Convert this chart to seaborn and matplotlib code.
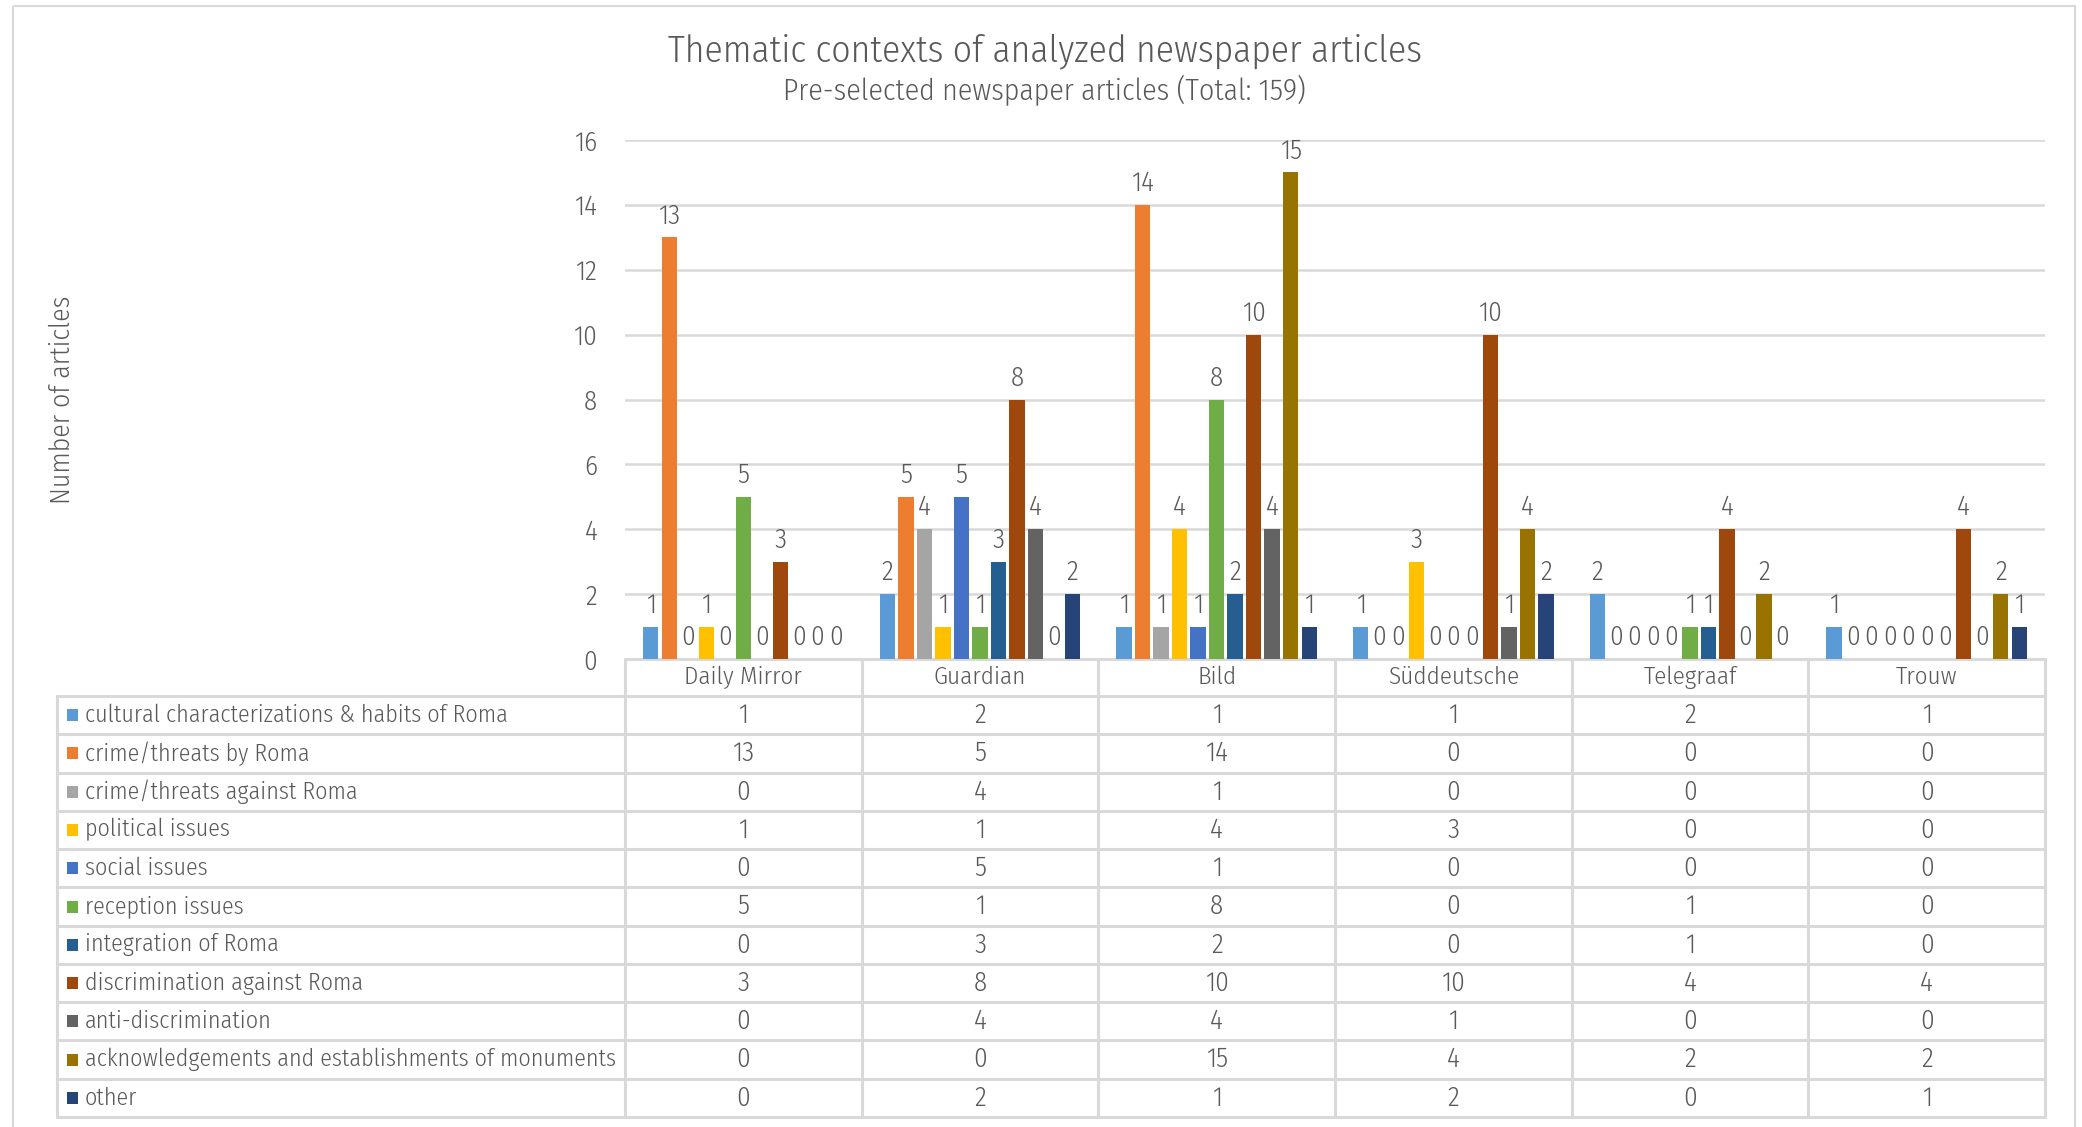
"""
Thematic contexts of analyzed newspaper articles - grouped bars with a data table
"""

import numpy as np
import pandas as pd
import matplotlib
matplotlib.use('Agg')
import matplotlib.pyplot as plt
from matplotlib.patches import Rectangle
import seaborn as sns


newspapers = ['Daily Mirror', 'Guardian', 'Bild', 'Süddeutsche', 'Telegraaf', 'Trouw']

topics = [
    'cultural characterizations & habits of Roma',
    'crime/threats by Roma',
    'crime/threats against Roma',
    'political issues',
    'social issues',
    'reception issues',
    'integration of Roma',
    'discrimination against Roma',
    'anti-discrimination',
    'acknowledgements and establishments of monuments',
    'other',
]

# one list per topic, values in newspaper order
cultural = [1, 2, 1, 1, 2, 1]
crime_by = [13, 5, 14, 0, 0, 0]
crime_against = [0, 4, 1, 0, 0, 0]
political = [1, 1, 4, 3, 0, 0]
social = [0, 5, 1, 0, 0, 0]
reception = [5, 1, 8, 0, 1, 0]
integration = [0, 3, 2, 0, 1, 0]
discrimination = [3, 8, 10, 10, 4, 4]
anti_discrimination = [0, 4, 4, 1, 0, 0]
monuments = [0, 0, 15, 4, 2, 2]
other = [0, 2, 1, 2, 0, 1]

topic_colors = ['#5B9BD5', '#ED7D31', '#A5A5A5', '#FFC000', '#4472C4', '#70AD47',
                '#255E91', '#9E480E', '#636363', '#997300', '#264478']

y_ticks = [0, 2, 4, 6, 8, 10, 12, 14, 16]

TITLE = 'Thematic contexts of analyzed newspaper articles'
SUBTITLE = 'Pre-selected newspaper articles (Total: 159)'
Y_LABEL = 'Number of articles'

TEXT = '#595959'
GRID = '#D9D9D9'
FONTS = ['Fira Sans Condensed', 'IBM Plex Sans Condensed', 'Encode Sans Condensed',
         'Archivo Narrow', 'DejaVu Sans']
FS_LABEL = 17.3   # 表格左列文字
FS_NUM = 19.5     # 数字
FS_CAT = 18

W, H = 2082, 1127


def build_frame():
    series = [cultural, crime_by, crime_against, political, social, reception,
              integration, discrimination, anti_discrimination, monuments, other]
    rows = []
    for topic, vals in zip(topics, series):
        for paper, v in zip(newspapers, vals):
            rows.append({'paper': paper, 'topic': topic, 'count': v})
    return pd.DataFrame(rows), series


def main():
    df, series = build_frame()

    sns.set_theme(style='white')
    plt.rcParams['font.family'] = FONTS
    plt.rcParams['font.weight'] = 300
    plt.rcParams['text.color'] = TEXT

    fig = plt.figure(figsize=(W / 100, H / 100), dpi=100)

    # 像素坐标的覆盖层，用于画表格
    over = fig.add_axes([0, 0, 1, 1], zorder=0)
    over.set_xlim(0, W)
    over.set_ylim(H, 0)
    over.axis('off')
    over.patch.set_alpha(0)

    # 外框
    over.add_patch(Rectangle((13, 6), 2062, 1130, fill=False, ec=GRID, lw=1.5))

    # 绘图区
    x0, x1 = 625, 2045
    y_top, y_base = 140, 659
    ax = fig.add_axes([x0 / W, 1 - y_base / H, (x1 - x0) / W, (y_base - y_top) / H], zorder=2)
    ax.patch.set_alpha(0)

    sns.barplot(data=df, x='paper', y='count', hue='topic', hue_order=topics,
                order=newspapers, palette=topic_colors, width=0.86, ax=ax,
                legend=False, saturation=1, errorbar=None)

    for cont in ax.containers:
        for bar in cont:
            w = bar.get_width()
            bar.set_x(bar.get_x() + w * 0.085)
            bar.set_width(w * 0.83)
            bar.set_edgecolor('none')
        ax.bar_label(cont, fmt='%d', padding=6, fontsize=FS_NUM, color=TEXT)

    ax.set_xlim(-0.5, len(newspapers) - 0.5)
    ax.set_ylim(0, 16)
    ax.set_yticks(y_ticks)
    ax.tick_params(axis='y', labelsize=FS_NUM, colors=TEXT, length=0, pad=20)
    ax.set_xticks([])
    ax.set_xlabel('')
    ax.set_ylabel('')
    ax.yaxis.grid(True, color=GRID, lw=1.8)
    ax.set_axisbelow(True)
    for s in ax.spines.values():
        s.set_visible(False)

    fig.text(62 / W, 1 - 400 / H, Y_LABEL, rotation=90, ha='center', va='center',
             fontsize=20, color=TEXT)
    fig.text(1045 / W, 1 - 51 / H, TITLE, ha='center', va='center', fontsize=27, color=TEXT)
    fig.text(1044 / W, 1 - 90 / H, SUBTITLE, ha='center', va='center', fontsize=21.5, color=TEXT)

    # 数据表
    col_w = (x1 - x0) / len(newspapers)
    t_left = 57
    row_top = 696
    row_h = (1117 - row_top) / len(topics)
    lw = 2.2

    over.plot([x0, x1], [y_base, y_base], color=GRID, lw=lw)
    for i in range(len(newspapers) + 1):
        xx = x0 + i * col_w
        over.plot([xx, xx], [y_base, 1117], color=GRID, lw=lw)
    over.plot([t_left, t_left], [row_top, 1117], color=GRID, lw=lw)
    for j in range(len(topics) + 1):
        yy = row_top + j * row_h
        over.plot([t_left, x1], [yy, yy], color=GRID, lw=lw)

    for i, paper in enumerate(newspapers):
        over.text(x0 + (i + 0.5) * col_w, (y_base + row_top) / 2, paper,
                  ha='center', va='center', fontsize=FS_CAT, color=TEXT)

    for j, (topic, vals, c) in enumerate(zip(topics, series, topic_colors)):
        yc = row_top + (j + 0.5) * row_h
        over.add_patch(Rectangle((67, yc - 6), 11, 12, color=c, lw=0))
        over.text(85, yc, topic, ha='left', va='center', fontsize=FS_LABEL, color=TEXT)
        for i, v in enumerate(vals):
            over.text(x0 + (i + 0.5) * col_w, yc, str(v), ha='center', va='center',
                      fontsize=FS_NUM, color=TEXT)

    plt.savefig('out.png', dpi=100)
    plt.close()


if __name__ == "__main__":
    main()
